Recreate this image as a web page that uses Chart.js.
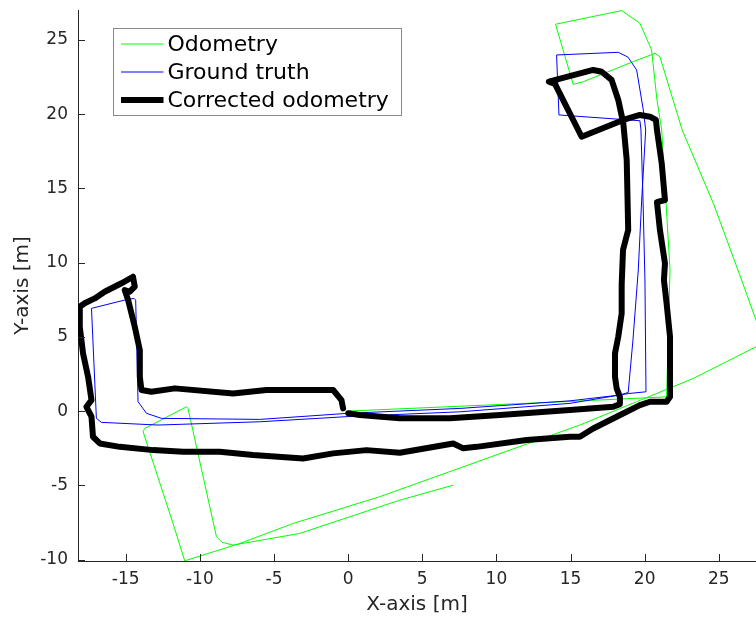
<!DOCTYPE html>
<html>
<head>
<meta charset="utf-8">
<script src="https://cdn.jsdelivr.net/npm/chart.js@4"></script>
<style>
html,body{margin:0;padding:0;background:#ffffff;}
#wrap{width:756px;height:622px;}
</style>
</head>
<body>
<div id="wrap"><canvas id="c" width="756" height="622"></canvas></div>
<script>
// ---- data ----
const seriesLabels = ['Odometry', 'Ground truth', 'Corrected odometry'];

const odomX = [0, 14.96, 21.48, 21.71, 21.15, 20.83, 20.47, 19.68, 18.45, 13.99, 15.18, 15.86, 19.23, 20.70, 21.03, 22.53, 24.63, 26.54, 27.51, 28.04, 27.51, 23.28, 15.63, 2.13, -3.71, -7.31, -11.02, -11.81, -13.83, -13.72, -10.90, -10.80, -8.88, -8.52, -7.76, -3.26, 3.49, 7.09];
const odomY = [0, 0.65, 0.96, 9.50, 18.94, 20.96, 24.33, 26.13, 26.98, 26.06, 22.01, 22.19, 23.54, 24.10, 23.87, 18.94, 14.0, 8.83, 6.13, 4.6, 4.33, 2.20, -0.94, -5.77, -7.57, -8.92, -10.09, -7.57, -1.39, -1.17, 0.29, 0.18, -8.47, -8.83, -9.03, -8.24, -6.0, -4.99];

const truthX = [0, 7.54, 14.96, 18.32, 18.89, 19.21, 19.57, 19.80, 20.07, 19.91, 19.46, 18.87, 18.22, 14.06, 14.22, 19.68, 19.75, 19.89, 20.02, 20.09, 18.89, 14.96, 7.54, 0, -5.96, -12.82, -16.64, -16.98, -17.31, -15.07, -14.44, -14.33, -14.17, -13.60, -12.59, -5.96, 0];
const truthY = [-0.15, 0.18, 0.69, 1.08, 1.25, 4.78, 9.50, 14.22, 18.94, 20.28, 22.98, 23.85, 24.17, 23.99, 19.95, 19.56, 18.94, 14.22, 8.83, 1.30, 1.18, 0.52, -0.05, -0.37, -0.72, -0.94, -0.76, -0.49, 6.92, 7.48, 7.59, 7.48, 0.63, -0.15, -0.49, -0.56, -0.15];

const corrX = [0, 0.79, 3.49, 6.86, 10.24, 14.96, 17.88, 18.33, 18.33, 18.11, 18.0, 18.0, 18.22, 18.45, 18.45, 18.54, 18.89, 18.84, 18.79, 18.56, 18.22, 17.77, 17.10, 16.53, 13.54, 13.95, 15.75, 18.56, 19.68, 20.36, 20.76, 20.83, 21.15, 21.37, 20.83, 21.03, 21.37, 21.30, 21.48, 21.71, 21.71, 21.48, 20.36, 19.68, 18.11, 16.53, 15.63, 14.96, 12.04, 8.66, 7.76, 7.09, 3.49, 1.24, -1.01, -3.04, -6.41, -8.66, -11.13, -13.16, -15.40, -16.75, -17.21, -17.31, -17.65, -17.31, -17.54, -17.88, -18.10, -18.10, -17.77, -17.09, -16.42, -15.29, -14.51, -14.39, -14.73, -15.07, -14.84, -14.39, -14.05, -14.05, -13.94, -13.27, -11.69, -7.76, -5.51, -1.01, -0.45, -0.34];
const corrY = [-0.15, -0.27, -0.49, -0.49, -0.27, 0.07, 0.29, 0.47, 0.96, 1.53, 2.31, 3.89, 5.01, 6.58, 8.49, 10.85, 12.20, 14.56, 16.91, 19.39, 20.96, 22.31, 22.86, 22.98, 22.19, 22.04, 18.48, 19.61, 19.95, 19.83, 19.61, 18.94, 16.69, 14.22, 14.08, 12.20, 9.95, 8.83, 7.26, 5.01, 0.96, 0.63, 0.63, 0.40, -0.38, -1.17, -1.73, -1.73, -1.95, -2.41, -2.51, -2.18, -2.81, -2.63, -2.85, -3.19, -2.96, -2.74, -2.74, -2.63, -2.41, -2.18, -1.73, -0.38, 0.29, 0.74, 2.31, 3.89, 5.68, 7.03, 7.26, 7.59, 8.04, 8.61, 9.05, 8.38, 8.04, 8.15, 7.48, 5.68, 4.11, 2.31, 1.42, 1.30, 1.53, 1.19, 1.42, 1.42, 0.74, 0.18];

const xTicks = [-15, -10, -5, 0, 5, 10, 15, 20, 25];
const yTicks = [-10, -5, 0, 5, 10, 15, 20, 25];
const xRange = [-18.22, 27.51];
const yRange = [-10.1, 27.02];

// ---- helpers ----
function pts(xs, ys) {
  const n = Math.min(xs.length, ys.length);
  const out = [];
  for (let i = 0; i < n; i++) out.push({x: xs[i], y: ys[i]});
  return out;
}

const AXIS_COLOR = '#262626';
const FONT = 'DejaVu Sans';

// inward tick marks (MATLAB style), positioned through the chart scales
const innerTicks = {
  id: 'innerTicks',
  afterDraw(chart) {
    const {ctx, chartArea, scales} = chart;
    const len = 7;
    ctx.save();
    ctx.strokeStyle = AXIS_COLOR;
    ctx.lineWidth = 1;
    ctx.beginPath();
    scales.x.ticks.forEach(t => {
      const px = Math.round(scales.x.getPixelForValue(t.value)) + 0.5;
      ctx.moveTo(px, chartArea.bottom);
      ctx.lineTo(px, chartArea.bottom - len);
    });
    scales.y.ticks.forEach(t => {
      const py = Math.round(scales.y.getPixelForValue(t.value)) + 0.5;
      ctx.moveTo(chartArea.left, py);
      ctx.lineTo(chartArea.left + len, py);
    });
    ctx.stroke();
    ctx.restore();
  }
};

// MATLAB-like legend box in the upper-left of the axes
const boxLegend = {
  id: 'boxLegend',
  afterDraw(chart) {
    const {ctx, chartArea} = chart;
    const bx = chartArea.left + 35.5, by = chartArea.top + 18.5, bw = 288, bh = 87;
    ctx.save();
    ctx.fillStyle = '#ffffff';
    ctx.fillRect(bx, by, bw, bh);
    ctx.strokeStyle = '#8a8a8a';
    ctx.lineWidth = 1;
    ctx.strokeRect(bx, by, bw, bh);
    ctx.font = '22px "' + FONT + '"';
    ctx.textBaseline = 'middle';
    ctx.textAlign = 'left';
    chart.data.datasets.forEach((ds, i) => {
      const ry = by + 15.5 + i * 28;
      ctx.strokeStyle = ds.borderColor;
      ctx.lineWidth = ds.borderWidth;
      ctx.lineCap = 'butt';
      ctx.beginPath();
      ctx.moveTo(bx + 7.5, ry);
      ctx.lineTo(bx + 50, ry);
      ctx.stroke();
      ctx.fillStyle = '#000000';
      ctx.fillText(ds.label, bx + 54, ry + 1);
    });
    ctx.restore();
  }
};

const ctx = document.getElementById('c').getContext('2d');
new Chart(ctx, {
  type: 'scatter',
  data: {
    datasets: [
      {label: seriesLabels[0], data: pts(odomX, odomY), showLine: true, pointRadius: 0,
       borderColor: '#00ff00', borderWidth: 1, fill: false, tension: 0, order: 3},
      {label: seriesLabels[1], data: pts(truthX, truthY), showLine: true, pointRadius: 0,
       borderColor: '#0000ff', borderWidth: 1, fill: false, tension: 0, order: 2},
      {label: seriesLabels[2], data: pts(corrX, corrY), showLine: true, pointRadius: 0,
       borderColor: '#000000', borderWidth: 6, fill: false, tension: 0, order: 1,
       borderJoinStyle: 'round', borderCapStyle: 'round'}
    ]
  },
  options: {
    responsive: false,
    animation: false,
    events: [],
    layout: {padding: {top: 10, right: 0, bottom: 0, left: 0}},
    plugins: {legend: {display: false}, tooltip: {enabled: false}},
    scales: {
      x: {
        type: 'linear', position: 'bottom',
        min: xRange[0], max: xRange[1],
        afterBuildTicks: s => { s.ticks = xTicks.map(v => ({value: v})); },
        afterFit: s => { s.height = 61; s.paddingLeft = 0; s.paddingRight = 0; },
        grid: {display: false, drawTicks: false},
        border: {display: true, color: AXIS_COLOR, width: 1},
        ticks: {font: {family: FONT, size: 17}, color: AXIS_COLOR, padding: 8, maxRotation: 0, autoSkip: false},
        title: {display: true, text: 'X-axis [m]', font: {family: FONT, size: 20}, color: AXIS_COLOR, padding: {top: 0, bottom: 5}}
      },
      y: {
        type: 'linear', position: 'left',
        min: yRange[0], max: yRange[1],
        afterBuildTicks: s => { s.ticks = yTicks.map(v => ({value: v})); },
        afterFit: s => { s.width = 78; s.paddingTop = 0; s.paddingBottom = 0; },
        grid: {display: false, drawTicks: false},
        border: {display: true, color: AXIS_COLOR, width: 1},
        ticks: {font: {family: FONT, size: 17}, color: AXIS_COLOR, padding: 10, autoSkip: false},
        title: {display: true, text: 'Y-axis [m]', font: {family: FONT, size: 20}, color: AXIS_COLOR, padding: {top: 11, bottom: 0}}
      }
    }
  },
  plugins: [innerTicks, boxLegend]
});
</script>
</body>
</html>
